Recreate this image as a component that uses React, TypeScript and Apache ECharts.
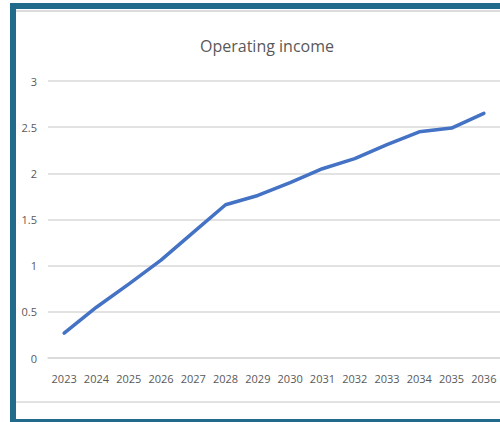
import React, { useEffect, useRef } from "react";
import * as echarts from "echarts";

const years = ["2023", "2024", "2025", "2026", "2027", "2028", "2029", "2030", "2031", "2032", "2033", "2034", "2035", "2036"];
const operatingIncome = [0.27, 0.55, 0.8, 1.06, 1.36, 1.66, 1.76, 1.9, 2.05, 2.16, 2.31, 2.45, 2.49, 2.65];
const chartTitle = "Operating income";

export default function App() {
  const ref = useRef<HTMLDivElement>(null);
  useEffect(() => {
    if (!ref.current) return;
    const chart = echarts.init(ref.current, undefined, { renderer: "svg" });
    const frame = "#226a8b";
    chart.setOption({
      animation: false,
      backgroundColor: "#ffffff",
      title: {
        text: chartTitle,
        left: 262,
        textAlign: "center",
        top: 33,
        textStyle: { fontFamily: "Open Sans", fontSize: 16, fontWeight: "normal", color: "#595959" },
      },
      grid: { left: 48, right: 0, top: 81, bottom: 64 },
      xAxis: {
        type: "category",
        data: years,
        boundaryGap: true,
        axisLine: { show: true, lineStyle: { color: "#d9d9d9", width: 1.5 } },
        axisTick: { show: false },
        axisLabel: { color: "#595959", fontFamily: "Open Sans", fontSize: 11, margin: 15, interval: 0 },
      },
      yAxis: {
        type: "value",
        min: 0,
        max: 3,
        interval: 0.5,
        axisLine: { show: false },
        axisTick: { show: false },
        splitLine: { lineStyle: { color: "#d9d9d9", width: 1.5 } },
        axisLabel: { color: "#595959", fontFamily: "Open Sans", fontSize: 11, margin: 11 },
      },
      series: [
        {
          type: "line",
          data: operatingIncome,
          symbol: "none",
          lineStyle: { color: "#4472c4", width: 3.5, cap: "round", join: "round" },
        },
      ],
      graphic: [
        { type: "rect", shape: { x: 10, y: 3, width: 490, height: 6 }, style: { fill: frame } },
        { type: "rect", shape: { x: 10, y: 3, width: 6, height: 419 }, style: { fill: frame } },
        { type: "rect", shape: { x: 10, y: 419, width: 490, height: 3 }, style: { fill: frame } },
        { type: "line", shape: { x1: 16, y1: 11, x2: 500, y2: 11 }, style: { stroke: "#dcdcdc", lineWidth: 2 } },
        { type: "line", shape: { x1: 16, y1: 402, x2: 500, y2: 402 }, style: { stroke: "#d9d9d9", lineWidth: 1.5 } },
      ],
    });
    return () => chart.dispose();
  }, []);
  return <div ref={ref} style={{ position: "fixed", left: 0, top: 0, width: 500, height: 422 }} />;
}
